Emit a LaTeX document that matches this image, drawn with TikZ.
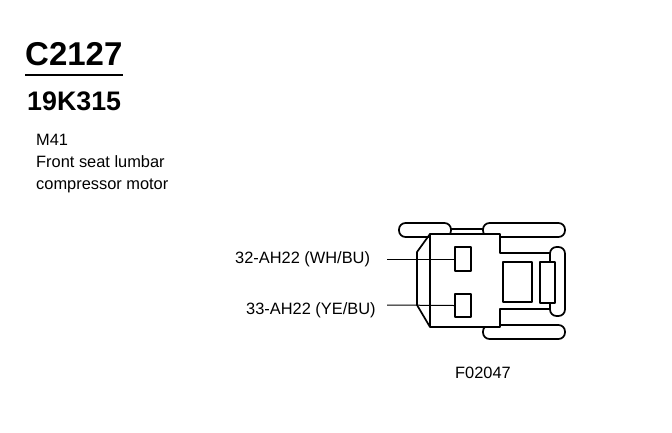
\documentclass[tikz,border=0pt]{standalone}
\usepackage{fontspec}
\setmainfont{Liberation Sans}
\begin{document}
\begin{tikzpicture}[x=1pt,y=-1pt,
  ln/.style={draw=black,line width=1.7pt,line join=round},
  capsule/.style={ln,rounded corners=6.5pt,fill=white},
  lbl/.style={anchor=base west,inner sep=0pt,text=black},
  txt/.style={lbl,font=\fontsize{16.4}{16.4}\selectfont},
  wire/.style={draw=black,line width=1pt}]
\useasboundingbox[fill=white] (0,0) rectangle (672,432);
\node[lbl,font=\bfseries\fontsize{33}{33}\selectfont] (code) at (25,65) {C2127};
\draw[draw=black,line width=1.1pt] (25,75) -- (123,75);
\node[lbl,font=\bfseries\fontsize{26.8}{26.8}\selectfont] (part) at (27,110) {19K315};
\node[txt] (m) at (36,145) {M41};
\node[txt] (f) at (36,167) {Front seat lumbar};
\node[txt] (c) at (36,189) {compressor motor};
\node[txt] (w2) at (235,263) {32-AH22 (WH/BU)};
\node[txt] (w1) at (246,314) {33-AH22 (YE/BU)};
\node[txt] (n2) at (476,262) {2};
\node[txt] (n1) at (476,309) {1};
\node[txt] (fig) at (455,378) {F02047};
% connector
\draw[ln] (451,229) -- (483,229);
\draw[capsule] (399,223) rectangle (451,237);
\draw[capsule] (483,223) rectangle (565,237);
\draw[capsule] (483,325) rectangle (565,339);
\draw[ln,fill=white] (430,234) -- (500,234) -- (500,253) -- (553,253) -- (553,309) -- (500,309) -- (500,327) -- (430,327) -- cycle;
\draw[ln] (430,234) -- (417,252) -- (417,305) -- (430,327);
\draw[capsule] (550,247) rectangle (565,316);
\draw[ln,fill=white] (503,262) rectangle (532,302);
\draw[ln,fill=white] (540,262) rectangle (555,303);
\node[ln,fill=white,minimum width=16pt,minimum height=24pt,inner sep=0pt] (p2) at (463,259) {};
\node[ln,fill=white,minimum width=16pt,minimum height=23pt,inner sep=0pt] (p1) at (463,305.5) {};
\coordinate (e2) at (387,259);
\coordinate (e1) at (387,305);
\draw[wire] (e2) -- (p2.west);
\draw[wire] (e1) -- (p1.west);
\end{tikzpicture}
\end{document}
